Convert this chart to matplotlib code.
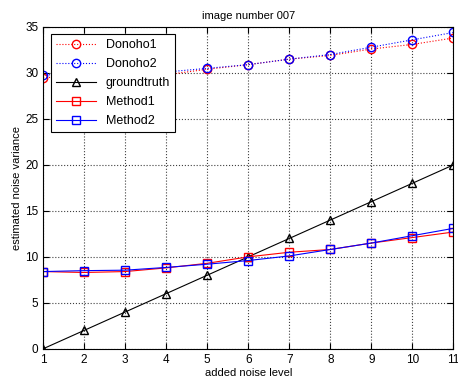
import numpy as np
import matplotlib
matplotlib.use('Agg')
import matplotlib.pyplot as plt

plt.rcParams['font.family'] = ['Liberation Sans', 'DejaVu Sans']
plt.rcParams['font.size'] = 8.5

noise_level = [1, 2, 3, 4, 5, 6, 7, 8, 9, 10, 11]
donoho1 = [29.5, 29.6, 29.7, 29.8, 30.4, 30.9, 31.5, 31.9, 32.6, 33.1, 33.8]
donoho2 = [29.8, 29.8, 29.9, 30.1, 30.5, 30.9, 31.5, 32.0, 32.8, 33.6, 34.4]
groundtruth = [0, 2, 4, 6, 8, 10, 12, 14, 16, 18, 20]
method1 = [8.4, 8.3, 8.4, 8.8, 9.3, 10.0, 10.5, 10.8, 11.5, 12.1, 12.7]
method2 = [8.4, 8.5, 8.55, 8.85, 9.2, 9.6, 10.1, 10.8, 11.5, 12.3, 13.1]

fig = plt.figure(figsize=(4.58, 3.85), dpi=100)
ax = fig.add_axes([0.094, 0.094, 0.896, 0.836])

mk = dict(markersize=6, markerfacecolor='none', linewidth=0.8)
ax.plot(noise_level, donoho1, ':o', color='red', markeredgecolor='red', label='Donoho1', **mk)
ax.plot(noise_level, donoho2, ':o', color='blue', markeredgecolor='blue', label='Donoho2', **mk)
ax.plot(noise_level, groundtruth, '-^', color='black', markeredgecolor='black', label='groundtruth', **mk)
ax.plot(noise_level, method1, '-s', color='red', markeredgecolor='red', label='Method1', **mk)
ax.plot(noise_level, method2, '-s', color='blue', markeredgecolor='blue', label='Method2', **mk)

ax.set_xlim(1, 11)
ax.set_ylim(0, 35)
ax.set_xticks(noise_level)
ax.set_yticks(range(0, 36, 5))
ax.grid(True, linestyle=':', color='#404040', linewidth=0.8)
ax.tick_params(direction='in', top=True, right=True, length=4)
for s in ax.spines.values():
    s.set_linewidth(0.8)

ax.set_title('image number 007', fontsize=8, pad=6)
ax.set_xlabel('added noise level', fontsize=8, labelpad=2)
ax.set_ylabel('estimated noise variance', fontsize=8, labelpad=2)

leg = ax.legend(loc='upper left', fancybox=False, edgecolor='black', framealpha=1,
                borderaxespad=0.6, handlelength=3.2, labelspacing=0.55, fontsize=9)
leg.get_frame().set_linewidth(0.8)

fig.savefig('out.png', dpi=100)
